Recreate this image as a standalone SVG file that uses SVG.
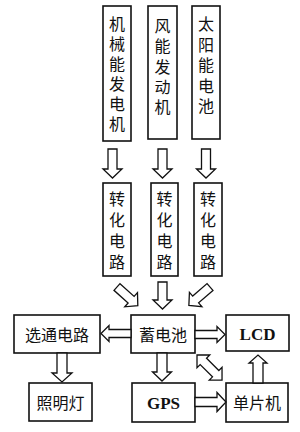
<svg xmlns="http://www.w3.org/2000/svg" width="300" height="432" viewBox="0 0 300 432">
<style>
.box{fill:#fff;stroke:#111;stroke-width:1.6}
.arr{fill:#fff;stroke:#111;stroke-width:1.3;stroke-linejoin:miter}
.t{font-family:"Liberation Serif","Noto Sans CJK SC",serif;font-size:16px;fill:#111;text-anchor:middle;dominant-baseline:central}
.b{font-family:"Liberation Serif","Noto Sans CJK SC",serif;font-size:17px;font-weight:bold;fill:#111;text-anchor:middle;dominant-baseline:central}
</style>
<rect width="300" height="432" fill="#fff"/>
<g id="n1"><rect class="box" x="103" y="6" width="28" height="135"/>
<text class="t" x="117" y="24">机</text><text class="t" x="117" y="44">械</text><text class="t" x="117" y="64">能</text><text class="t" x="117" y="84">发</text><text class="t" x="117" y="104">电</text><text class="t" x="117" y="124">机</text></g>
<g id="n2"><rect class="box" x="148" y="6" width="29" height="133"/>
<text class="t" x="162.5" y="26">风</text><text class="t" x="162.5" y="46">能</text><text class="t" x="162.5" y="67">发</text><text class="t" x="162.5" y="87">动</text><text class="t" x="162.5" y="107">机</text></g>
<g id="n3"><rect class="box" x="192" y="6" width="28" height="133"/>
<text class="t" x="206" y="24">太</text><text class="t" x="206" y="45">阳</text><text class="t" x="206" y="65">能</text><text class="t" x="206" y="86">电</text><text class="t" x="206" y="106">池</text></g>
<g id="n4"><rect class="box" x="103" y="183" width="28" height="93"/>
<text class="t" x="117" y="199">转</text><text class="t" x="117" y="220">化</text><text class="t" x="117" y="241">电</text><text class="t" x="117" y="262">路</text></g>
<g id="n5"><rect class="box" x="151" y="183" width="27" height="93"/>
<text class="t" x="164.5" y="199">转</text><text class="t" x="164.5" y="220">化</text><text class="t" x="164.5" y="241">电</text><text class="t" x="164.5" y="262">路</text></g>
<g id="n6"><rect class="box" x="194" y="183" width="28" height="93"/>
<text class="t" x="208" y="199">转</text><text class="t" x="208" y="220">化</text><text class="t" x="208" y="241">电</text><text class="t" x="208" y="262">路</text></g>
<g id="n7"><rect class="box" x="14" y="315" width="86" height="38"/><text class="t" x="57" y="335">选通电路</text></g>
<g id="n8"><rect class="box" x="131" y="315" width="64" height="38"/><text class="t" x="163" y="335">蓄电池</text></g>
<g id="n9"><rect class="box" x="226" y="315" width="63" height="36"/><text class="b" x="257.5" y="334">LCD</text></g>
<g id="n10"><rect class="box" x="29" y="383" width="63" height="38"/><text class="t" x="60.5" y="403">照明灯</text></g>
<g id="n11"><rect class="box" x="132" y="383" width="63" height="39"/><text class="b" x="163.5" y="403">GPS</text></g>
<g id="n12"><rect class="box" x="226" y="383" width="62" height="39"/><text class="t" x="257" y="403">单片机</text></g>
<g id="connectors">
<path class="arr" transform="translate(112.5,149) rotate(90)" d="M0,-4.5 H20 V-9.5 L29,0 L20,9.5 V4.5 H0 Z"/>
<path class="arr" transform="translate(162.5,149) rotate(90)" d="M0,-4.5 H20 V-9.5 L29,0 L20,9.5 V4.5 H0 Z"/>
<path class="arr" transform="translate(206,149) rotate(90)" d="M0,-4.5 H20 V-9.5 L29,0 L20,9.5 V4.5 H0 Z"/>
<path class="arr" transform="translate(117,287) rotate(42)" d="M0,-4.5 H19 V-9.5 L28,0 L19,9.5 V4.5 H0 Z"/>
<path class="arr" transform="translate(162.5,282) rotate(90)" d="M0,-4.5 H18 V-9.5 L27,0 L18,9.5 V4.5 H0 Z"/>
<path class="arr" transform="translate(210,287) rotate(139)" d="M0,-4.5 H19 V-9.5 L28,0 L19,9.5 V4.5 H0 Z"/>
<path class="arr" transform="translate(131,333.5) rotate(180)" d="M0,-4 H22 V-8 L30,0 L22,8 V4 H0 Z"/>
<path class="arr" transform="translate(195,334.5)" d="M0,-4 H22 V-8 L30,0 L22,8 V4 H0 Z"/>
<path class="arr" transform="translate(62,353) rotate(90)" d="M0,-5 H20 V-10 L29,0 L20,10 V5 H0 Z"/>
<path class="arr" transform="translate(162,353) rotate(90)" d="M0,-5 H19 V-9.5 L28,0 L19,9.5 V5 H0 Z"/>
<path class="arr" transform="translate(195,402)" d="M0,-4.5 H22 V-9.5 L31,0 L22,9.5 V4.5 H0 Z"/>
<path class="arr" transform="translate(258,383) rotate(-90)" d="M0,-5 H20 V-9 L28,0 L20,9 V5 H0 Z"/>
<path class="arr" transform="translate(197,355) rotate(45)" d="M0,0 L9,-9 V-4.5 H26.4 V-9 L35.4,0 L26.4,9 V4.5 H9 V9 Z"/>
</g>
</svg>
